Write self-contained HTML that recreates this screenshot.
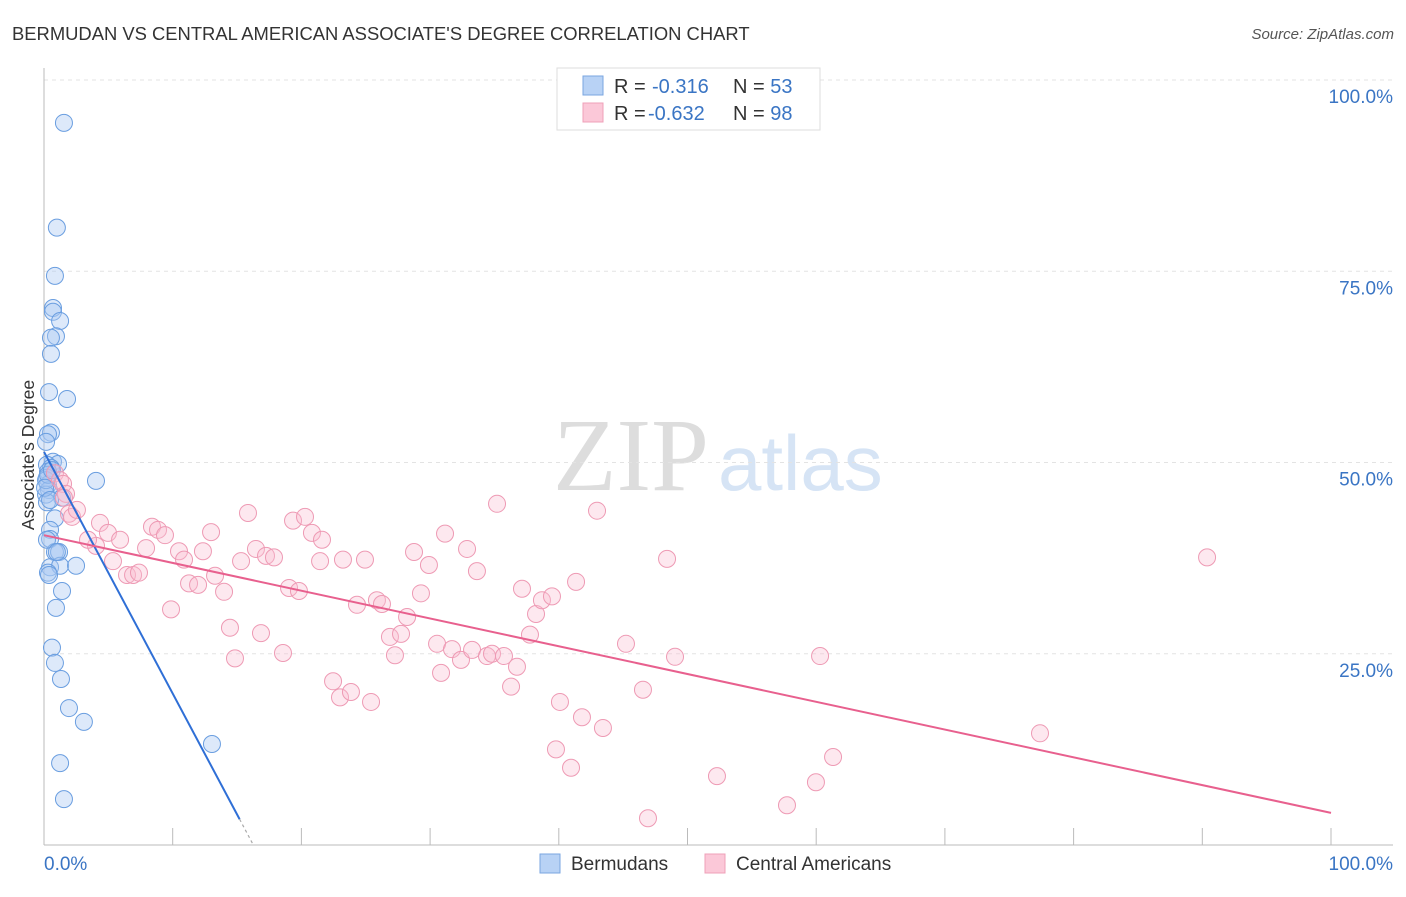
<!DOCTYPE html>
<html><head><meta charset="utf-8"><style>
body{margin:0;background:#fff;width:1406px;height:892px;overflow:hidden;font-family:"Liberation Sans",sans-serif}
</style></head><body>
<svg width="1406" height="892" xmlns="http://www.w3.org/2000/svg" style="font-family:'Liberation Sans',sans-serif">
<text x="12" y="40" font-size="18.4" fill="#333">BERMUDAN VS CENTRAL AMERICAN ASSOCIATE'S DEGREE CORRELATION CHART</text>
<text x="1394" y="39" font-size="15" fill="#555" font-style="italic" text-anchor="end">Source: ZipAtlas.com</text>
<g>
<text x="553" y="490" font-size="104" fill="#ddd" font-family="'Liberation Serif',serif">ZIP</text>
<text x="718" y="490" font-size="78" fill="#d6e4f5">atlas</text>
</g>
<g id="grid"></g>
<g id="axes"></g>
<g id="pts"></g>
<g id="lines"></g>
<text transform="translate(34,455) rotate(-90)" font-size="17.5" fill="#333" text-anchor="middle">Associate's Degree</text>
<text x="44" y="870" font-size="19" fill="#3a75c4">0.0%</text>
<text x="1393" y="870" font-size="19" fill="#3a75c4" text-anchor="end">100.0%</text>
<g>
<rect x="557" y="68" width="263" height="62" fill="#fff" stroke="#ddd"/>
<rect x="583" y="76" width="20" height="19" fill="#b8d2f5" stroke="#7aa6e0"/>
<rect x="583" y="103" width="20" height="19" fill="#fbc8d8" stroke="#efa0b8"/>
<text x="614" y="93" font-size="20" fill="#333">R = <tspan fill="#3a75c4" x="652">-0.316</tspan><tspan x="733">N = </tspan><tspan fill="#3a75c4">53</tspan></text>
<text x="614" y="120" font-size="20" fill="#333">R = <tspan fill="#3a75c4" x="648">-0.632</tspan><tspan x="733">N = </tspan><tspan fill="#3a75c4">98</tspan></text>
</g>
<g>
<rect x="540" y="854" width="20" height="19" fill="#b8d2f5" stroke="#7aa6e0"/>
<text x="571" y="870" font-size="19" fill="#333">Bermudans</text>
<rect x="705" y="854" width="20" height="19" fill="#fbc8d8" stroke="#efa0b8"/>
<text x="736" y="870" font-size="19" fill="#333">Central Americans</text>
</g>
</svg>
<script>
const yTicks=[25,50,75,100];
const yTickLabels=["25.0%","50.0%","75.0%","100.0%"];
const xTicks=[10,20,30,40,50,60,70,80,90,100];
const bermudans=[[1.55,94.4],[1.0,80.7],[0.85,74.4],[0.7,70.2],[0.7,69.7],[1.25,68.5],[0.93,66.5],[0.54,66.3],[0.54,64.2],[0.39,59.2],[1.79,58.3],[0.54,53.9],[0.31,53.7],[0.16,52.7],[0.7,50.1],[1.09,49.8],[0.23,49.7],[0.54,49.3],[0.31,48.8],[4.04,47.6],[0.23,48.0],[0.31,47.1],[0.39,46.4],[0.16,45.8],[1.4,45.4],[0.23,44.8],[0.85,42.7],[0.47,41.2],[0.47,40.0],[0.85,38.3],[1.17,38.3],[0.47,36.3],[1.25,36.5],[2.49,36.5],[0.31,35.6],[1.4,33.2],[0.93,31.0],[0.62,25.8],[0.85,23.8],[1.32,21.7],[1.94,17.9],[3.1,16.1],[13.05,13.2],[1.25,10.7],[1.55,6.0],[0.16,47.7],[0.31,48.4],[0.08,46.7],[0.47,45.1],[0.62,49.0],[0.23,39.9],[0.39,35.3],[1.0,38.3]];
const centralAmericans=[[0.85,48.6],[1.24,47.7],[1.48,47.2],[1.71,45.9],[1.55,45.4],[1.94,43.3],[2.18,42.9],[2.56,43.8],[4.35,42.1],[4.97,40.8],[5.91,39.9],[4.04,39.1],[3.42,39.9],[5.36,37.1],[6.45,35.3],[6.92,35.3],[7.38,35.6],[7.93,38.8],[8.39,41.6],[8.86,41.2],[9.4,40.5],[9.87,30.8],[10.49,38.4],[10.88,37.3],[11.27,34.2],[11.97,34.0],[12.35,38.4],[12.98,40.9],[13.29,35.2],[13.99,33.1],[14.45,28.4],[14.84,24.4],[15.31,37.1],[15.85,43.4],[16.47,38.7],[16.86,27.7],[17.25,37.8],[17.87,37.6],[18.57,25.1],[19.04,33.6],[19.35,42.4],[19.81,33.2],[20.28,42.9],[20.82,40.8],[21.45,37.1],[21.6,39.9],[22.46,21.4],[23.0,19.3],[23.23,37.3],[23.85,20.0],[24.32,31.4],[24.94,37.3],[25.41,18.7],[25.87,32.0],[26.26,31.5],[26.88,27.2],[27.27,24.8],[27.74,27.6],[28.21,29.8],[28.75,38.3],[29.29,32.9],[29.91,36.6],[30.54,26.3],[30.85,22.5],[31.16,40.7],[31.7,25.6],[32.4,24.2],[32.87,38.7],[33.26,25.5],[33.64,35.8],[34.42,24.7],[34.81,25.0],[35.2,44.6],[35.74,24.7],[36.29,20.7],[36.75,23.3],[37.14,33.5],[37.76,27.5],[38.23,30.2],[38.69,32.0],[39.47,32.5],[39.78,12.5],[40.09,18.7],[40.95,10.1],[41.34,34.4],[41.8,16.7],[42.97,43.7],[43.43,15.3],[45.22,26.3],[46.54,20.3],[46.93,3.5],[48.41,37.4],[49.03,24.6],[52.29,9.0],[57.73,5.2],[59.98,8.2],[60.3,24.7],[61.31,11.5],[77.39,14.6],[90.37,37.6]];
const bermudanTrend=[51.4,-3.16];
const centralTrend=[40.5,-0.363];
const NS="http://www.w3.org/2000/svg";
const X=v=>44+v*12.87, Y=v=>845-v*7.65;
function mk(t,a,p){const e=document.createElementNS(NS,t);for(const k in a)e.setAttribute(k,a[k]);document.getElementById(p).appendChild(e);return e;}
yTicks.forEach((t,i)=>{
 const g=mk('line',{x1:44,x2:1393,y1:Y(t),y2:Y(t),stroke:'#e3e3e3','stroke-dasharray':'4,4'},'grid');
 
 
 const l=mk('text',{x:1393,y:Y(t)+23,'font-size':19,fill:'#3a75c4','text-anchor':'end'},'axes');
 l.textContent=yTickLabels[i];
 
 
});
const ya=mk('line',{x1:44,x2:44,y1:68,y2:845,stroke:'#bbb'},'axes');


const xa=mk('line',{x1:44,x2:1393,y1:845,y2:845,stroke:'#bbb'},'axes');


xTicks.forEach(t=>{
 const k=mk('line',{x1:X(t),x2:X(t),y1:828,y2:845,stroke:'#bbb'},'axes');
 
 
});
bermudans.forEach(d=>{
 const c=mk('circle',{cx:X(d[0]),cy:Y(d[1]),r:8.5,fill:'rgba(170,200,242,0.4)',stroke:'#6a9ee0','stroke-width':1},'pts');
 
 
});
centralAmericans.forEach(d=>{
 const c=mk('circle',{cx:X(d[0]),cy:Y(d[1]),r:8.5,fill:'rgba(250,190,208,0.35)',stroke:'#ee9ab4','stroke-width':1},'pts');
 
 
});
const bEnd=15.2,bDash=16.2;
const b1=mk('line',{x1:X(0),y1:Y(bermudanTrend[0]),x2:X(bEnd),y2:Y(bermudanTrend[0]+bermudanTrend[1]*bEnd),stroke:'#2f6fd6','stroke-width':2},'lines');


const b2=mk('line',{x1:X(bEnd),y1:Y(bermudanTrend[0]+bermudanTrend[1]*bEnd),x2:X(bDash),y2:Y(bermudanTrend[0]+bermudanTrend[1]*bDash),stroke:'#aaa','stroke-width':1.2,'stroke-dasharray':'3,3'},'lines');


const p1=mk('line',{x1:X(0),y1:Y(centralTrend[0]),x2:X(100),y2:Y(centralTrend[0]+centralTrend[1]*100),stroke:'#e8608e','stroke-width':2},'lines');


</script>
</body></html>
